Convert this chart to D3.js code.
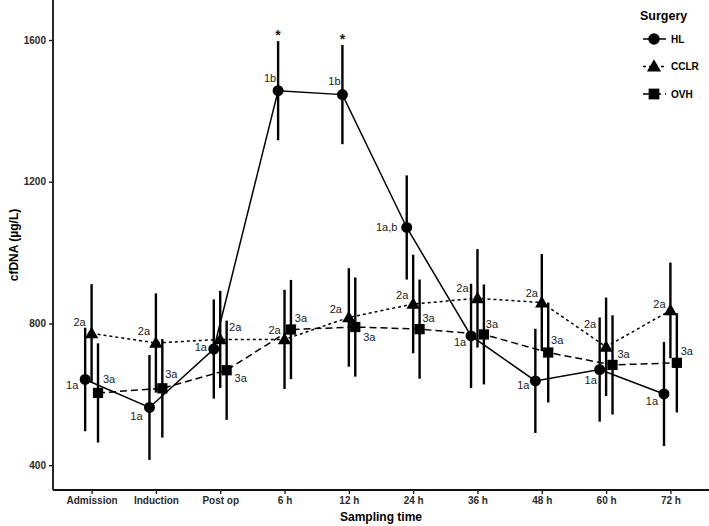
<!DOCTYPE html>
<html>
<head>
<meta charset="utf-8">
<script src="https://cdn.jsdelivr.net/npm/d3@7"></script>
<style>
  body { margin: 0; background: #fff; }
  svg { font-family: "Liberation Sans", Arial, sans-serif; }
</style>
</head>
<body>
<svg id="chart" width="709" height="526"></svg>
<script>
// sampling times
var times = ["Admission", "Induction", "Post op", "6 h", "12 h", "24 h", "36 h", "48 h", "60 h", "72 h"];

// cfDNA mean and error per surgery group
var hlMean   = [642, 563, 728, 1457, 1446, 1071, 765, 638, 670, 601];
var hlErr    = [146, 148, 140, 140, 140, 147, 147, 147, 147, 147];
var cclrMean = [772, 745, 755, 755, 817, 855, 871, 859, 734, 837];
var cclrErr  = [139, 140, 137, 140, 139, 139, 139, 137, 139, 135];
var ovhMean  = [604, 617, 668, 783, 790, 784, 769, 718, 683, 689];
var ovhErr   = [140, 139, 140, 140, 140, 140, 141, 141, 140, 140];

// letter labels
var hlLabels   = ["1a", "1a", "1a", "1b", "1b", "1a,b", "1a", "1a", "1a", "1a"];
var cclrLabels = ["2a", "2a", "2a", "2a", "2a", "2a", "2a", "2a", "2a", "2a"];
var ovhLabels  = ["3a", "3a", "3a", "3a", "3a", "3a", "3a", "3a", "3a", "3a"];

// significance marks
var starTimes = ["6 h", "12 h"];

var yTicks = [400, 800, 1200, 1600];

// label nudges in px (layout only)
var hlNudge   = [[-13, 6], [-13, 9], [-13, -2], [-8, -13], [-8, -13], [-20, 0], [-11, 6], [-12, 4], [-9, 11], [-12, 7]];
var cclrNudge = [[-12, -11], [-12, -12], [15, -12], [-10, -9], [-13, -8], [-11, -9], [-15, -10], [-10, -9], [-16, -23], [-11, -6]];
var ovhNudge  = [[11, -14], [9, -14], [14, 8], [10, -11], [14, 10], [9, -11], [8, -10], [9, -12], [11, -11], [10, -12]];

var svg = d3.select("#chart");
// note: "top" is taken by window.top, so use other names
var plotLeft = 53, plotRight = 709, plotTop = 0, plotBottom = 490;

var x = d3.scalePoint().domain(times).range([plotLeft, plotRight]).padding(0.6);
var y = d3.scaleLinear().domain([330, 1713]).range([plotBottom, plotTop]);
var dodge = x.step() * 0.1;

var groups = [
    { name: "HL",   mean: hlMean,   err: hlErr,   labels: hlLabels,   nudge: hlNudge,   off: -dodge, shape: d3.symbolCircle,   size: 95,  dash: null },
    { name: "CCLR", mean: cclrMean, err: cclrErr, labels: cclrLabels, nudge: cclrNudge, off: 0,      shape: d3.symbolTriangle, size: 78,  dash: "3,3" },
    { name: "OVH",  mean: ovhMean,  err: ovhErr,  labels: ovhLabels,  nudge: ovhNudge,  off: dodge,  shape: d3.symbolSquare,   size: 105, dash: "7,4" }
];

// build rows for each group
groups.forEach(function (g) {
    g.rows = times.map(function (t, i) {
        return { t: t, v: g.mean[i], e: g.err[i], lab: g.labels[i], n: g.nudge[i], px: x(t) + g.off };
    });
});

var line = d3.line()
    .x(function (d) { return d.px; })
    .y(function (d) { return y(d.v); });

// lines first
groups.forEach(function (g) {
    svg.append("path")
        .datum(g.rows)
        .attr("d", line)
        .attr("fill", "none")
        .attr("stroke", "#000")
        .attr("stroke-width", 1.5)
        .attr("stroke-dasharray", g.dash);
});

// error bars
groups.forEach(function (g) {
    svg.selectAll(".eb-" + g.name)
        .data(g.rows).enter()
        .append("line")
        .attr("x1", function (d) { return d.px; })
        .attr("x2", function (d) { return d.px; })
        .attr("y1", function (d) { return y(d.v - d.e); })
        .attr("y2", function (d) { return y(d.v + d.e); })
        .attr("stroke", "#000")
        .attr("stroke-width", 2.4);
});

// points
groups.forEach(function (g) {
    svg.selectAll(".pt-" + g.name)
        .data(g.rows).enter()
        .append("path")
        .attr("d", d3.symbol().type(g.shape).size(g.size))
        .attr("transform", function (d) {
            var dy = g.shape === d3.symbolTriangle ? 1 : 0;
            return "translate(" + d.px + "," + (y(d.v) + dy) + ")";
        })
        .attr("fill", "#000");
});

// letter labels
groups.forEach(function (g) {
    svg.selectAll(".lab-" + g.name)
        .data(g.rows).enter()
        .append("text")
        .attr("x", function (d) { return d.px + d.n[0]; })
        .attr("y", function (d) { return y(d.v) + d.n[1]; })
        .attr("dy", "0.35em")
        .attr("text-anchor", "middle")
        .style("font-size", "11px")
        .style("fill", "#1a1a1a")
        .text(function (d) { return d.lab; });
});

// asterisks above the HL bars
svg.selectAll(".star")
    .data(starTimes).enter()
    .append("text")
    .attr("x", function (t) { return x(t) - dodge; })
    .attr("y", function (t) {
        var i = times.indexOf(t);
        return y(hlMean[i] + hlErr[i]) - 1;
    })
    .attr("text-anchor", "middle")
    .style("font-size", "14px")
    .style("font-weight", "bold")
    .style("fill", "#1a1a1a")
    .text("*");

// axes
var xAxis = svg.append("g")
    .attr("transform", "translate(0," + plotBottom + ")")
    .call(d3.axisBottom(x).tickSizeOuter(0).tickSize(4).tickPadding(3));
var yAxis = svg.append("g")
    .attr("transform", "translate(" + plotLeft + ",0)")
    .call(d3.axisLeft(y).tickValues(yTicks).tickFormat(d3.format("d"))
        .tickSizeOuter(0).tickSize(4).tickPadding(3));

[xAxis, yAxis].forEach(function (a) {
    a.select(".domain").attr("stroke", "#111").attr("stroke-width", 1.8);
    a.selectAll(".tick line").attr("stroke", "#222").attr("stroke-width", 1.4);
    a.selectAll(".tick text")
        .style("font-family", "'Liberation Sans', Arial, sans-serif")
        .style("font-size", "10px")
        .style("font-weight", "bold")
        .style("fill", "#2a2a2a");
});
// extend axis lines to the corner
xAxis.select(".domain").attr("d", "M" + plotLeft + ",0H" + plotRight);
yAxis.select(".domain").attr("d", "M0," + plotTop + "V" + plotBottom);

// axis titles
svg.append("text")
    .attr("x", (plotLeft + plotRight) / 2)
    .attr("y", 521)
    .attr("text-anchor", "middle")
    .style("font-size", "12px")
    .style("font-weight", "bold")
    .text("Sampling time");

svg.append("text")
    .attr("transform", "translate(18," + ((plotTop + plotBottom) / 2) + ") rotate(-90)")
    .attr("text-anchor", "middle")
    .style("font-size", "12px")
    .style("font-weight", "bold")
    .text("cfDNA (µg/L)");

// legend
var legend = svg.append("g").attr("transform", "translate(640,0)");
legend.append("text")
    .attr("x", 0)
    .attr("y", 20)
    .style("font-size", "12.5px")
    .style("font-weight", "bold")
    .text("Surgery");

groups.forEach(function (g, i) {
    var ly = 39 + i * 27.5;
    legend.append("line")
        .attr("x1", 3).attr("x2", 26)
        .attr("y1", ly).attr("y2", ly)
        .attr("stroke", "#000")
        .attr("stroke-width", 1.5)
        .attr("stroke-dasharray", g.dash);
    legend.append("path")
        .attr("d", d3.symbol().type(g.shape).size(g.size * 1.1))
        .attr("transform", "translate(14," + (ly + (g.shape === d3.symbolTriangle ? 1 : 0)) + ")")
        .attr("fill", "#000");
    legend.append("text")
        .attr("x", 31)
        .attr("y", ly)
        .attr("dy", "0.35em")
        .style("font-size", "10px")
        .style("font-weight", "bold")
        .text(g.name);
});
</script>
</body>
</html>
